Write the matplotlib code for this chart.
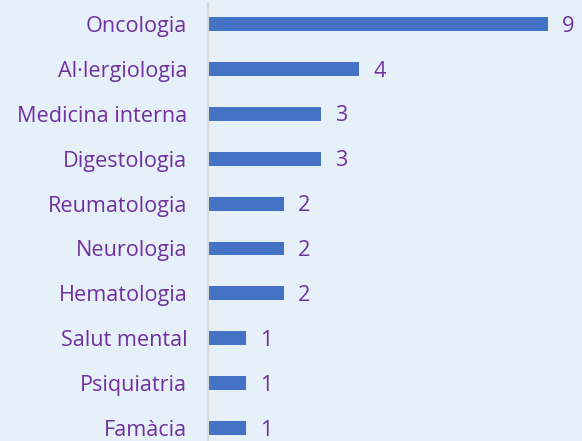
import matplotlib.pyplot as plt

specialties = [
    "Oncologia", "Al·lergiologia", "Medicina interna", "Digestologia",
    "Reumatologia", "Neurologia", "Hematologia", "Salut mental",
    "Psiquiatria", "Famàcia",
]
counts = [9, 4, 3, 3, 2, 2, 2, 1, 1, 1]

BG = "#E5F0F9"
BAR = "#4472C4"
PURPLE = "#7030A0"

plt.rcParams["font.family"] = ["Open Sans", "DejaVu Sans"]

fig = plt.figure(figsize=(5.82, 4.41), dpi=100, facecolor=BG)
ax = fig.add_axes([208 / 582, 0.0, 370.4 / 582, 438 / 441], facecolor=BG)

pos = list(range(len(specialties)))
ax.barh(pos, counts, height=0.31, color=BAR)
ax.set_ylim(9.29, -0.47)
ax.set_xlim(0, 9.8)

ax.set_yticks(pos)
ax.set_yticklabels(specialties, fontsize=15.6, color=PURPLE)
ax.tick_params(axis="y", length=0, pad=15)
ax.set_xticks([])

for s in ["top", "right", "bottom"]:
    ax.spines[s].set_visible(False)
ax.spines["left"].set_color("#D9D9D9")
ax.spines["left"].set_linewidth(1.5)

for p, c in zip(pos, counts):
    ax.annotate(str(c), (c, p), xytext=(10, -1.5), textcoords="offset points",
                ha="left", va="center", fontsize=15.6, color=PURPLE)

fig.savefig("out.png", dpi=100, facecolor=BG)
